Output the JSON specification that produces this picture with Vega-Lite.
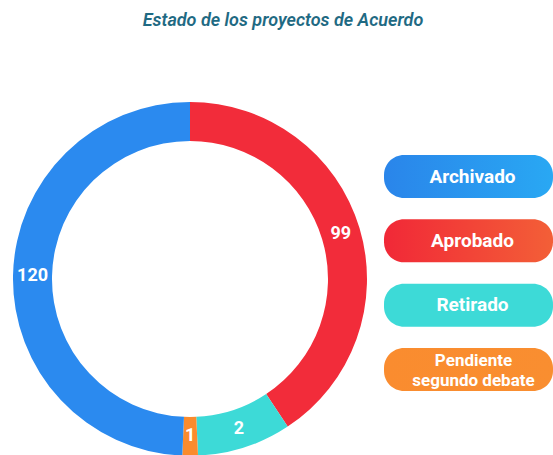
{
  "$schema": "https://vega.github.io/schema/vega-lite/v6.json",
  "padding": {"left": 13, "top": 12, "right": 0, "bottom": 0},
  "autosize": {"type": "pad"},
  "background": "white",
  "title": {
    "text": "Estado de los proyectos de Acuerdo",
    "font": "Roboto",
    "fontSize": 18,
    "fontStyle": "italic",
    "fontWeight": 600,
    "color": "#1f6a83",
    "anchor": "middle",
    "offset": 72
  },
  "config": {"view": {"stroke": null}},
  "datasets": {
    "estado": [
      {"estado": "Aprobado", "cantidad": 99, "arco": 146.5, "orden": 1, "etiqueta": "Aprobado"},
      {"estado": "Retirado", "cantidad": 2, "arco": 30.9, "orden": 2, "etiqueta": "Retirado"},
      {"estado": "Pendiente segundo debate", "cantidad": 1, "arco": 5.1, "orden": 3, "etiqueta": "Pendiente\nsegundo debate"},
      {"estado": "Archivado", "cantidad": 120, "arco": 177.5, "orden": 4, "etiqueta": "Archivado"}
    ]
  },
  "spacing": 17,
  "hconcat": [
    {
      "width": 354,
      "height": 352,
      "data": {"name": "estado"},
      "encoding": {
        "theta": {"field": "arco", "type": "quantitative", "stack": true},
        "order": {"field": "orden", "type": "quantitative"}
      },
      "layer": [
        {
          "mark": {"type": "arc", "innerRadius": 138, "outerRadius": 177},
          "encoding": {
            "color": {
              "field": "estado",
              "type": "nominal",
              "scale": {
                "domain": ["Aprobado", "Retirado", "Pendiente segundo debate", "Archivado"],
                "range": ["#f22c3a", "#3ddad7", "#fa8b2d", "#2b8aef"]
              },
              "legend": null
            }
          }
        },
        {
          "mark": {"type": "text", "radius": 157.5, "font": "Roboto", "fontSize": 18, "fontWeight": "bold", "color": "white"},
          "encoding": {"text": {"field": "cantidad", "type": "quantitative"}}
        }
      ]
    },
    {
      "width": 169,
      "height": 340,
      "data": {"name": "estado"},
      "encoding": {
        "y": {
          "field": "estado",
          "type": "nominal",
          "sort": ["Archivado", "Aprobado", "Retirado", "Pendiente segundo debate"],
          "axis": null,
          "scale": {"paddingInner": 0.331, "paddingOuter": 0.81}
        }
      },
      "layer": [
        {
          "transform": [{"filter": "datum.estado === 'Archivado'"}],
          "mark": {"type": "bar", "cornerRadius": 20, "fill": {"gradient": "linear", "x1": 0, "y1": 0, "x2": 1, "y2": 0, "stops": [{"offset": 0, "color": "#2a85ea"}, {"offset": 1, "color": "#29a8f3"}]}}
        },
        {
          "transform": [{"filter": "datum.estado === 'Aprobado'"}],
          "mark": {"type": "bar", "cornerRadius": 20, "fill": {"gradient": "linear", "x1": 0, "y1": 0, "x2": 1, "y2": 0, "stops": [{"offset": 0, "color": "#f12837"}, {"offset": 1, "color": "#f35f37"}]}}
        },
        {
          "transform": [{"filter": "datum.estado === 'Retirado'"}],
          "mark": {"type": "bar", "cornerRadius": 20, "fill": "#3ddad7"}
        },
        {
          "transform": [{"filter": "datum.estado === 'Pendiente segundo debate'"}],
          "mark": {"type": "bar", "cornerRadius": 20, "fill": {"gradient": "linear", "x1": 0, "y1": 0, "x2": 1, "y2": 0, "stops": [{"offset": 0, "color": "#fa8c2f"}, {"offset": 1, "color": "#f98e30"}]}}
        },
        {
          "transform": [{"filter": "datum.estado !== 'Pendiente segundo debate'"}],
          "mark": {"type": "text", "font": "Roboto", "fontSize": 19, "fontWeight": "bold", "color": "white", "dx": 4},
          "encoding": {"text": {"field": "etiqueta", "type": "nominal"}}
        },
        {
          "transform": [{"filter": "datum.estado === 'Pendiente segundo debate'"}],
          "mark": {"type": "text", "font": "Roboto", "fontSize": 17, "fontWeight": "bold", "color": "white", "lineBreak": "\n", "lineHeight": 20, "dx": 5, "dy": -8},
          "encoding": {"text": {"field": "etiqueta", "type": "nominal"}}
        }
      ]
    }
  ]
}
